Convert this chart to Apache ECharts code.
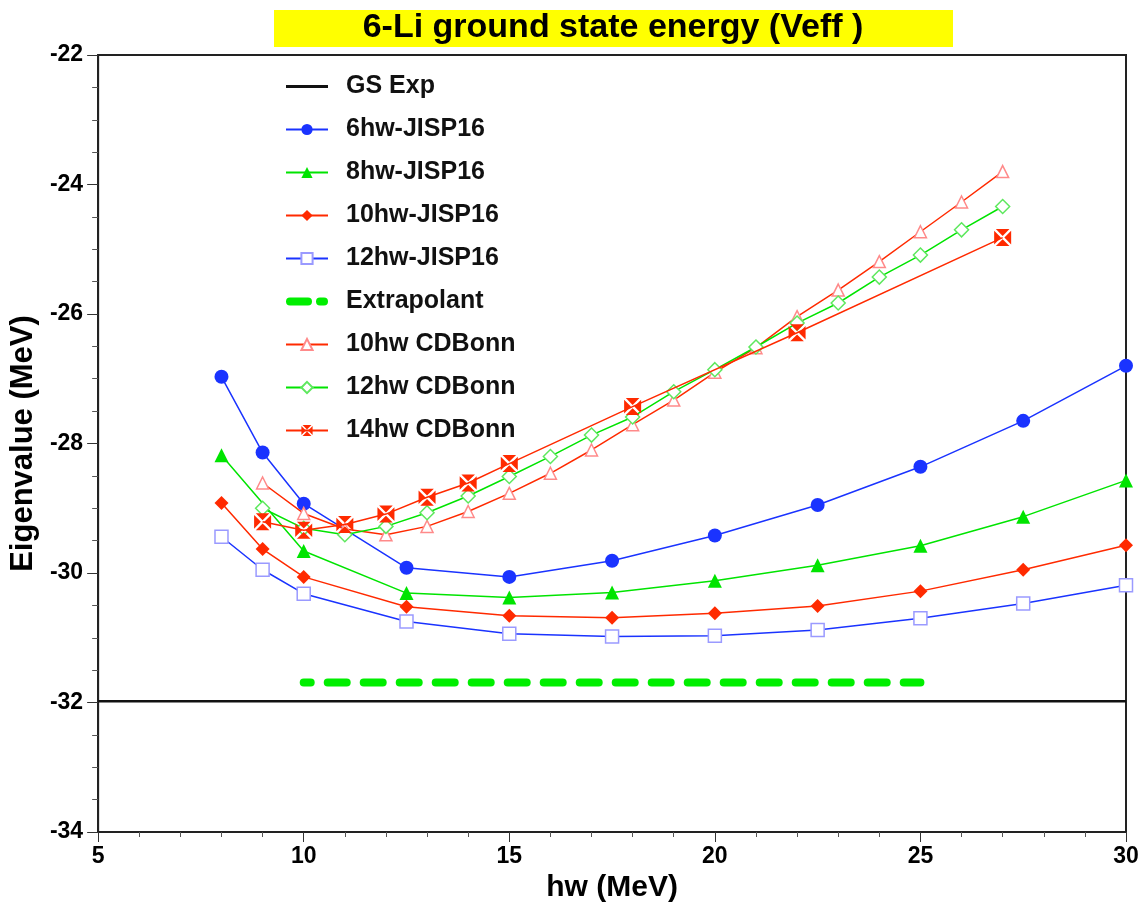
<!DOCTYPE html>
<html>
<head>
<meta charset="utf-8">
<script src="https://cdn.jsdelivr.net/npm/echarts@6/dist/echarts.min.js"></script>
<style>
  html, body { margin: 0; padding: 0; background: #fff; }
  #chart { width: 1147px; height: 910px; }
</style>
</head>
<body>
<div id="chart"></div>
<script>
// ---- data ----
const titleText = '6-Li ground state energy (Veff )';
const xTicks = [5, 10, 15, 20, 25, 30];
const yTicks = [-34, -32, -30, -28, -26, -24, -22];

const gsExpX = [5, 30];
const gsExpE = [-31.98, -31.98];

const hwJisp = [8, 9, 10, 12.5, 15, 17.5, 20, 22.5, 25, 27.5, 30];
const e6hw  = [-26.97, -28.14, -28.93, -29.92, -30.06, -29.81, -29.42, -28.95, -28.36, -27.65, -26.80];
const hw8   = [8, 10, 12.5, 15, 17.5, 20, 22.5, 25, 27.5, 30];
const e8hw  = [-28.18, -29.66, -30.31, -30.38, -30.30, -30.12, -29.88, -29.58, -29.13, -28.57];
const e10hw = [-28.92, -29.63, -30.06, -30.52, -30.66, -30.69, -30.62, -30.51, -30.28, -29.95, -29.57];
const e12hw = [-29.44, -29.95, -30.32, -30.75, -30.94, -30.98, -30.97, -30.88, -30.70, -30.47, -30.19];

const extrapX = [10, 25];
const extrapE = [-31.69, -31.69];

const hwCD = [9, 10, 11, 12, 13, 14, 15, 16, 17, 18, 19, 20, 21, 22, 23, 24, 25, 26, 27];
const cd10 = [-28.61, -29.08, -29.32, -29.41, -29.28, -29.05, -28.77, -28.46, -28.10, -27.71, -27.33, -26.90, -26.52, -26.04, -25.63, -25.19, -24.73, -24.27, -23.80];
const cd12 = [-29.00, -29.31, -29.41, -29.28, -29.07, -28.81, -28.51, -28.20, -27.87, -27.59, -27.20, -26.86, -26.51, -26.14, -25.83, -25.43, -25.09, -24.70, -24.34];
const hwCD14 = [9, 10, 11, 12, 13, 14, 15, 18, 22, 27];
const cd14 = [-29.21, -29.34, -29.25, -29.09, -28.83, -28.61, -28.31, -27.43, -26.29, -24.82];

// ---- build ----
const pairs = (xs, ys) => xs.map((x, i) => [x, ys[i]]);
const BLUE = '#1a33ff', GREEN = '#00e400', RED = '#ff2a00';
const FONT = '"Liberation Sans", Arial, Helvetica, sans-serif';
const xSquare = 'path://M2,0 L18,0 L10,8 Z M20,2 L20,18 L12,10 Z M18,20 L2,20 L10,12 Z M0,18 L0,2 L8,10 Z';
const lineIcon = 'path://M0,0 L42,0 L42,3 L0,3 Z';
const dashIcon = 'path://M4,0 L22,0 A4,4 0 0 1 22,8 L4,8 A4,4 0 0 1 4,0 Z M34,0 L38,0 A4,4 0 0 1 38,8 L34,8 A4,4 0 0 1 34,0 Z';

const chart = echarts.init(document.getElementById('chart'), null, { renderer: 'canvas' });

const option = {
  backgroundColor: '#fff',
  animation: false,
  title: {
    text: titleText,
    left: 613, top: 11, textAlign: 'center', padding: 0,
    textStyle: { fontFamily: FONT, fontWeight: 'bold', fontSize: 34, color: '#000' }
  },
  graphic: [{
    type: 'rect', z: -1, silent: true,
    shape: { x: 274, y: 10, width: 679, height: 37 },
    style: { fill: '#ffff00' }
  }],
  grid: {
    left: 98, right: 21, top: 55, bottom: 78,
    show: true, borderColor: '#222', borderWidth: 2, backgroundColor: 'transparent'
  },
  legend: {
    orient: 'vertical', left: 285, top: 74, padding: 0,
    itemWidth: 42, itemHeight: 14, itemGap: 18,
    textStyle: { fontFamily: FONT, fontWeight: 'bold', fontSize: 25, color: '#111', lineHeight: 25, padding: [0, 0, 0, 13] },
    data: [
      { name: 'GS Exp', icon: lineIcon },
      '6hw-JISP16', '8hw-JISP16', '10hw-JISP16', '12hw-JISP16',
      { name: 'Extrapolant', icon: dashIcon },
      '10hw CDBonn', '12hw CDBonn', '14hw CDBonn'
    ]
  },
  xAxis: {
    type: 'value', min: xTicks[0], max: xTicks[xTicks.length - 1], interval: 5,
    name: 'hw (MeV)', nameLocation: 'middle', nameGap: 41,
    nameTextStyle: { fontFamily: FONT, fontWeight: 'bold', fontSize: 30, color: '#000' },
    axisLine: { lineStyle: { color: '#222', width: 2 } },
    axisTick: { length: 10, lineStyle: { color: '#333', width: 1 } },
    minorTick: { show: true, splitNumber: 5, length: 5, lineStyle: { color: '#555' } },
    splitLine: { show: false },
    axisLabel: { fontFamily: FONT, fontWeight: 'bold', fontSize: 23, color: '#000', margin: 13 }
  },
  yAxis: {
    type: 'value', min: yTicks[0], max: yTicks[yTicks.length - 1], interval: 2,
    name: 'Eigenvalue (MeV)', nameLocation: 'middle', nameGap: 48,
    nameTextStyle: { fontFamily: FONT, fontWeight: 'bold', fontSize: 31, color: '#000' },
    axisLine: { show: true, lineStyle: { color: '#222', width: 2 } },
    axisTick: { show: true, length: 11, lineStyle: { color: '#333', width: 1 } },
    minorTick: { show: true, splitNumber: 4, length: 6, lineStyle: { color: '#555' } },
    splitLine: { show: false },
    axisLabel: { fontFamily: FONT, fontWeight: 'bold', fontSize: 23, color: '#000', margin: 15 }
  },
  series: [
    {
      name: 'GS Exp', type: 'line', data: pairs(gsExpX, gsExpE),
      showSymbol: false, symbol: 'none', z: 2,
      itemStyle: { color: '#111' }, lineStyle: { color: '#111', width: 2.5 }
    },
    {
      name: '6hw-JISP16', type: 'line', data: pairs(hwJisp, e6hw),
      symbol: 'circle', symbolSize: 14, z: 3,
      itemStyle: { color: BLUE }, lineStyle: { color: BLUE, width: 1.5 }
    },
    {
      name: '8hw-JISP16', type: 'line', data: pairs(hw8, e8hw),
      symbol: 'triangle', symbolSize: 14, z: 3,
      itemStyle: { color: GREEN }, lineStyle: { color: GREEN, width: 1.5 }
    },
    {
      name: '10hw-JISP16', type: 'line', data: pairs(hwJisp, e10hw),
      symbol: 'diamond', symbolSize: 14, z: 3,
      itemStyle: { color: RED }, lineStyle: { color: RED, width: 1.5 }
    },
    {
      name: '12hw-JISP16', type: 'line', data: pairs(hwJisp, e12hw),
      symbol: 'rect', symbolSize: 13, z: 3,
      itemStyle: { color: '#fff', borderColor: '#9a9aff', borderWidth: 1.5 },
      lineStyle: { color: BLUE, width: 1.5 }
    },
    {
      name: 'Extrapolant', type: 'line', data: pairs(extrapX, extrapE),
      showSymbol: false, symbol: 'none', z: 2,
      itemStyle: { color: '#00ee00' },
      lineStyle: { color: '#00ee00', width: 8, type: [19, 17], dashOffset: 12, cap: 'round' }
    },
    {
      name: '10hw CDBonn', type: 'line', data: pairs(hwCD, cd10),
      symbol: 'triangle', symbolSize: 12, z: 4,
      itemStyle: { color: '#fff', borderColor: '#ff8a8a', borderWidth: 1.5 },
      lineStyle: { color: RED, width: 1.5 }
    },
    {
      name: '12hw CDBonn', type: 'line', data: pairs(hwCD, cd12),
      symbol: 'diamond', symbolSize: 14, z: 4,
      itemStyle: { color: '#fff', borderColor: '#5ee85e', borderWidth: 1.5 },
      lineStyle: { color: GREEN, width: 1.5 }
    },
    {
      name: '14hw CDBonn', type: 'line', data: pairs(hwCD14, cd14),
      symbol: xSquare, symbolSize: 17, z: 5,
      itemStyle: { color: RED },
      lineStyle: { color: RED, width: 1.5 }
    }
  ]
};
chart.setOption(option);
</script>
</body>
</html>
